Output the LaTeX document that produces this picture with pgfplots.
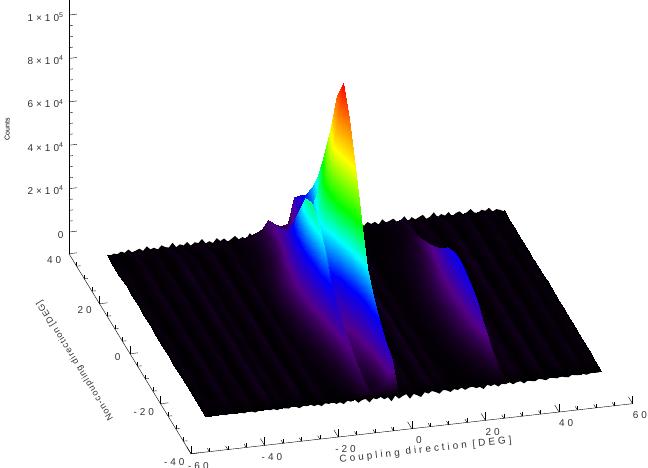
\documentclass[border=0pt]{standalone}
\usepackage{pgfplots}
\pgfplotsset{compat=1.18}
\usepackage{fontspec}
\setmainfont{Liberation Sans}
\newfontfamily\lbl[LetterSpace=30]{Liberation Sans}
\newfontfamily\yl[LetterSpace=10]{Liberation Sans}
\pgfplotsset{
 colormap={idl}{rgb255(0)=(0,0,0); rgb255(10)=(85,0,135); rgb255(24)=(0,0,255); rgb255(38)=(0,255,255); rgb255(52)=(0,255,0); rgb255(72)=(255,255,0); rgb255(86)=(255,130,0); rgb255(100)=(255,0,0)}
}
\begin{document}
\begin{tikzpicture}[x=1pt,y=1pt]
\path[use as bounding box, clip] (0,0) rectangle (648,468);
\begin{axis}[
 at={(350.8pt,161pt)}, anchor=origin,
 x={(3.68pt,0.417pt)}, y={(-1.525pt,2.5pt)}, z={(0pt,0.217pt)},
 xmin=-60,xmax=60,ymin=-40,ymax=40,zmin=-100,zmax=1100,
 clip=false,
 axis x line*=bottom, axis y line*=left, axis z line*=left,
 xtick={-60,-40,...,60}, ytick={-40,-20,...,40}, ztick={0,200,...,1000},
 zticklabels={0,2×10\textsuperscript{4},4×10\textsuperscript{4},6×10\textsuperscript{4},8×10\textsuperscript{4},1×10\textsuperscript{5}},
 minor x tick num=3, minor y tick num=3, minor z tick num=3,
 major tick length=8pt, minor tick length=4pt,
 tick style={black,line width=0.4pt},
 axis line style={line width=0.4pt,-},
 tick label style={font=\lbl\fontsize{10}{11}\selectfont,text=black!80},
 xticklabel style={xshift=5pt,yshift=-3.5pt},
 yticklabel style={xshift=-6pt,yshift=4pt},
 zticklabel style={anchor=base east,yshift=-6pt,xshift=-2pt},
 /pgf/number format/assume math mode=true,
 xlabel={Coupling direction [DEG]},
 ylabel={Non-coupling direction [DEG]},
 zlabel={Counts},
 xlabel style={font=\lbl\fontsize{10}{11}\selectfont,text=black!80,rotate=6.4,anchor=center,at={(axis cs:0.2,-48.6,-100)}},
 ylabel style={font=\yl\fontsize{9}{10}\selectfont,text=black!80,rotate=121.4,anchor=center,at={(axis cs:-75,-0.3,-100)}},
 zlabel style={font=\fontsize{7}{8}\selectfont,anchor=center,at={(axis cs:-76.8,40,505)}},
 point meta min=0, point meta max=1070,
 colormap name=idl,
]
\addplot3[fill=black,draw=none,forget plot] table[header=false, x expr={-53.3+\coordindex}, y expr={29.3}, z index=0] {
0
9
4
14
7
20
5
11
18
6
25
9
15
4
22
12
8
28
6
17
10
24
5
19
13
30
8
16
6
26
11
21
5
15
27
9
18
7
32
12
6
23
10
29
5
16
20
8
26
13
4
31
10
18
7
24
14
6
28
9
20
12
33
5
17
25
8
15
30
6
22
11
19
4
27
10
16
24
7
13
29
5
21
9
18
26
6
14
32
8
20
11
25
5
17
23
7
15
28
10
6
19
12
24
5
14
9
0
};
\addplot3[surf, shader=interp, mesh/cols=62, mesh/rows=18, z buffer=none]
 table[header=false, x expr={52.7-1.75*mod(\coordindex,62)+0.06*max(0,17-mod(\coordindex,62))}, y expr={max(-34.7,29.3-4*floor(\coordindex/62))}, z index=0] {
8
4
12
6
10
3
14
7
9
5
13
8
4
10
6
20
12
8
12
6
10
4
8
6
13
5
12
7
3
11
6
14
175
60
50
60
85
45
30
18
12
8
5
12
6
10
4
13
6
3
11
5
14
5
9
4
12
6
10
3
8
5
3
7
2
12
4
1
13
5
2
16
6
1
10
15
5
25
14
9
6
4
4
3
5
4
12
2
18
7
2
14
5
10
230
115
80
70
110
52
28
16
9
6
5
14
3
2
16
6
2
11
4
18
3
2
13
5
2
15
4
1
8
2
5
10
4
9
6
3
18
4
2
15
8
3
14
12
7
35
19
12
8
6
4
4
3
6
10
4
24
6
4
15
8
9
280
140
98
84
140
66
35
20
11
8
7
12
5
3
21
5
4
10
6
19
5
1
12
7
4
14
6
3
12
2
2
6
4
16
3
2
12
7
4
22
5
2
9
20
5
65
32
19
12
8
6
3
3
7
16
2
20
10
2
19
4
14
360
198
144
126
175
81
42
24
14
8
4
18
3
4
15
9
2
15
4
25
6
3
16
5
2
20
4
3
9
4
6
11
1
10
7
3
20
5
2
17
9
4
15
16
8
90
44
26
16
10
8
5
4
3
18
5
25
6
4
14
8
10
460
276
230
184
260
120
62
36
20
12
8
13
6
1
22
5
5
11
7
20
3
4
12
8
4
16
7
1
12
2
3
8
3
15
4
1
14
7
5
24
5
1
11
17
4
125
60
34
22
13
8
5
3
6
12
4
20
9
2
18
7
13
600
420
360
270
360
165
84
48
26
15
5
20
3
3
17
8
2
14
3
23
6
2
17
5
3
19
4
2
8
5
5
10
2
11
6
4
17
4
2
19
8
3
13
14
7
160
76
44
26
16
9
7
5
4
16
5
24
7
3
15
5
11
780
585
429
312
460
210
106
60
32
18
7
15
5
2
20
6
4
12
6
21
3
3
14
7
2
17
6
3
11
3
2
7
4
13
3
2
15
6
4
21
6
1
12
19
5
210
98
56
32
20
11
6
5
6
13
2
21
9
2
19
7
14
970
727
533
388
490
224
112
63
34
20
5
17
3
4
18
9
2
14
5
24
5
1
15
6
4
18
3
2
9
4
4
9
3
16
5
1
13
7
3
18
7
3
10
16
6
240
112
64
38
22
12
8
4
5
15
4
23
6
4
16
6
12
1070
856
535
375
440
202
102
58
30
17
6
14
5
2
21
6
3
12
6
22
3
3
13
6
3
16
5
1
12
3
3
10
2
12
6
3
18
5
2
22
5
2
13
18
5
250
116
66
38
24
13
8
5
6
12
3
25
8
2
17
5
11
950
665
380
266
390
180
90
51
28
16
7
18
3
3
17
8
4
15
4
20
6
2
16
7
2
20
6
3
10
2
5
7
4
14
3
2
14
7
4
17
8
1
11
15
7
240
112
64
38
22
13
9
4
4
16
2
20
9
3
15
7
13
780
429
234
156
280
130
66
38
21
13
5
15
5
2
22
5
2
11
7
24
3
4
12
5
4
15
4
2
11
4
2
9
2
15
6
1
17
4
3
20
6
3
13
19
4
220
102
58
34
21
12
6
3
6
14
4
24
7
2
18
5
10
580
290
157
116
220
103
52
30
17
10
6
18
3
3
16
9
4
14
3
20
5
1
17
6
2
19
6
2
9
2
4
10
3
11
5
4
15
6
2
23
7
2
10
16
7
190
90
52
30
18
11
7
5
5
13
3
21
10
3
15
7
14
400
180
100
80
160
76
39
24
14
10
8
13
5
2
20
6
3
12
5
23
4
3
14
7
3
16
3
3
12
4
3
8
4
13
4
2
18
5
4
18
5
1
14
17
5
140
66
38
23
14
8
5
3
4
16
2
24
6
4
17
5
11
320
144
80
64
120
58
30
18
10
6
5
17
4
3
19
7
2
15
6
21
3
2
16
5
4
19
6
1
8
3
5
7
2
16
6
1
14
7
2
21
8
3
11
15
6
80
39
23
14
9
6
4
4
7
12
4
20
9
2
16
6
13
260
91
52
39
90
44
24
15
8
6
6
14
3
2
22
5
4
11
4
24
5
3
13
6
2
17
4
2
11
2
2
9
3
12
3
3
17
5
3
16
6
1
12
18
4
40
21
13
9
5
5
3
3
4
15
3
22
7
3
14
7
10
210
63
32
21
65
32
18
10
7
4
7
16
4
3
17
8
3
13
5
20
3
2
15
5
3
15
6
3
9
3
0
1
0
2
0
1
2
0
1
3
0
0
2
3
1
8
7
4
2
1
1
0
1
0
2
0
3
1
0
2
1
-2
160
48
24
16
37
15
6
3
1
0
0
2
1
0
3
1
0
2
0
3
1
0
2
1
0
2
1
0
1
0
0
0
0
0
0
0
0
0
0
0
0
0
0
0
0
0
0
0
0
0
0
0
0
0
0
0
0
0
0
0
0
0
0
0
0
0
0
0
0
0
0
0
0
0
0
0
0
0
0
0
0
0
0
0
0
0
0
0
0
0
0
0
};
\addplot3[fill=black,draw=none,forget plot] table[header=false, x expr={-53.3+\coordindex}, y expr={-34.7}, z index=0] {
0
-2
-1
-3
-1
-6
-2
-1
-4
-2
-7
-1
-3
-9
-2
-4
-1
-6
-3
-10
-2
-5
-8
-1
-4
-12
-3
-7
-2
-10
-5
-14
-3
-8
-1
-12
-6
-16
-3
-9
-2
-18
-7
-4
-22
-5
-11
-2
-15
-8
-28
-4
-20
-10
-3
-26
-6
-14
-24
-4
-12
-2
-9
-18
-3
-7
-16
-5
-11
-2
-14
-6
-3
-12
-8
-20
-2
-10
-4
-16
-5
-9
-2
-13
-6
-3
-15
-4
-8
-11
-2
-6
-12
-3
-5
-9
-2
-7
-10
-1
-4
-6
-2
-8
-3
-1
-4
0
};
\end{axis}
\end{tikzpicture}
\end{document}
